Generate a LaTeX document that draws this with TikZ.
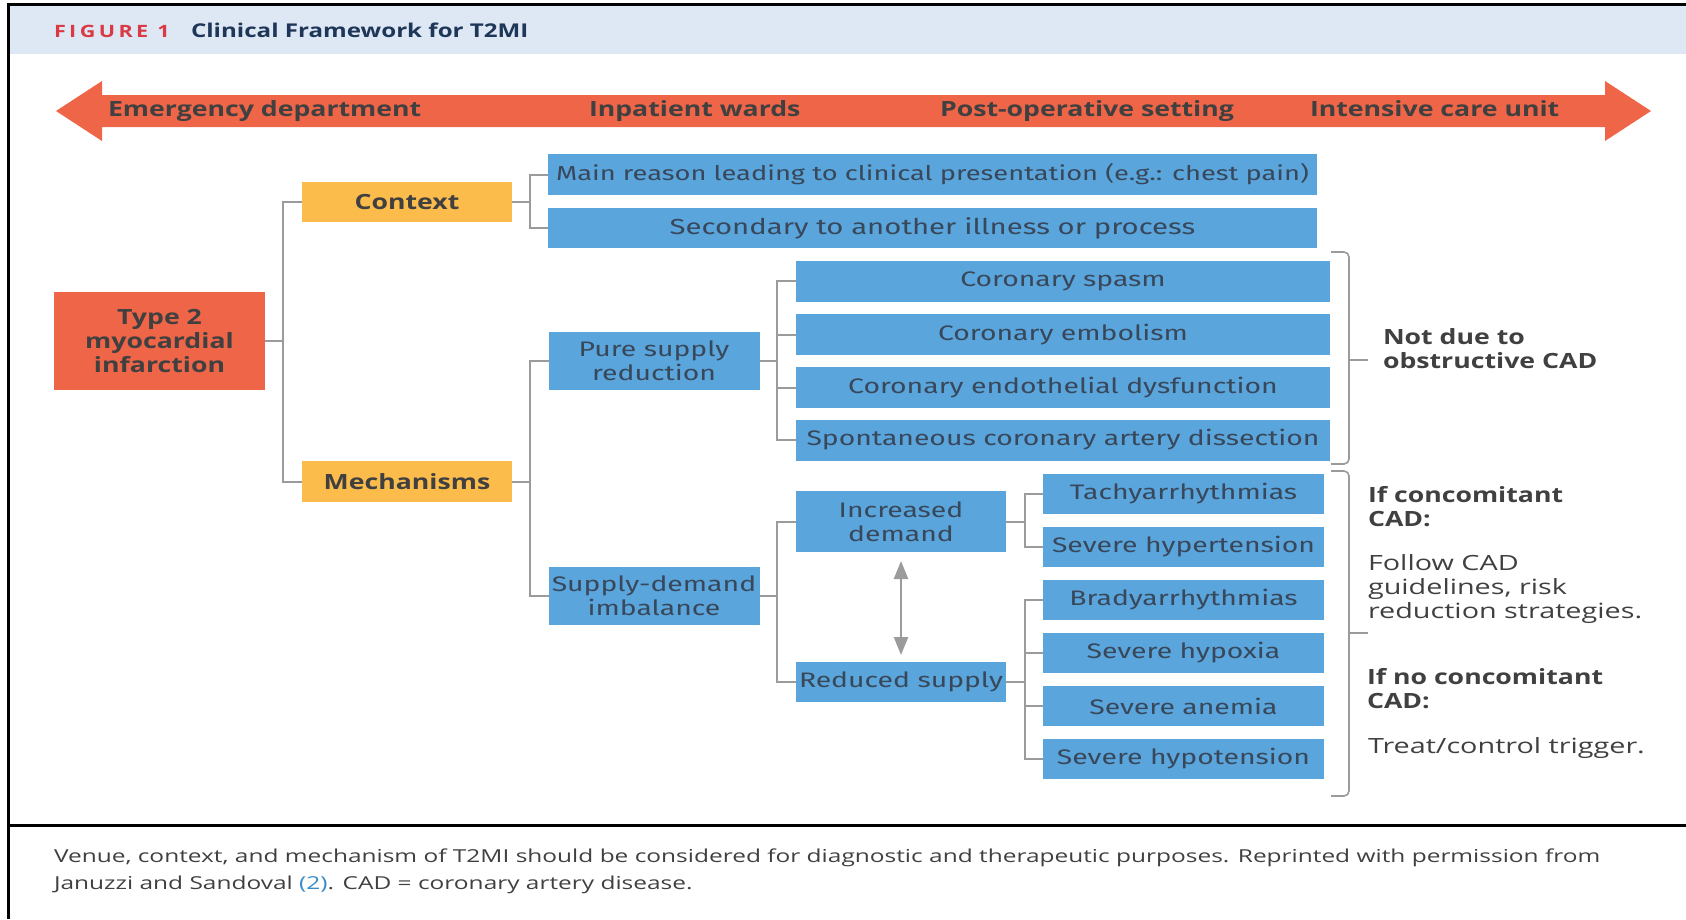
\documentclass[tikz,border=0pt]{standalone}
\usepackage{fontspec}
\setmainfont{Open Sans}[FakeStretch=1.37]
\newfontfamily\boldfont{Open Sans}[FakeStretch=1.27]
\newfontfamily\boxfont{Fira Sans}[FakeStretch=1.35]
\usetikzlibrary{arrows.meta}
\definecolor{orng}{HTML}{EF6548}
\definecolor{yel}{HTML}{FBBC4C}
\definecolor{blu}{HTML}{5AA5DC}
\definecolor{hdr}{HTML}{DEE8F4}
\definecolor{txt}{HTML}{404040}
\definecolor{boxtxt}{HTML}{38475A}
\definecolor{lnk}{HTML}{9B9B9B}
\definecolor{figred}{HTML}{D93A45}
\definecolor{navy}{HTML}{1E3658}
\definecolor{capblue}{HTML}{3A8CC8}
\tikzset{
  every node/.style={inner sep=0pt, outer sep=0pt},
  bluebox/.style={fill=blu, text=boxtxt, font=\boxfont\fontsize{21}{24}\selectfont, align=center},
  yelbox/.style={fill=yel, text=txt, font=\boldfont\bfseries\fontsize{21}{24}\selectfont, align=center, minimum width=210pt, minimum height=40pt},
  redbox/.style={fill=orng, text=txt, font=\boldfont\bfseries\fontsize{21}{24}\selectfont, align=center},
  wide/.style={bluebox, minimum width=769pt, minimum height=41pt},
  coro/.style={bluebox, minimum width=534pt, minimum height=41pt},
  mid/.style={bluebox, minimum width=211pt},
  leaf/.style={bluebox, minimum width=281pt, minimum height=40pt},
  link/.style={draw=lnk, line width=2pt},
  brace/.style={draw=lnk, line width=1.6pt, rounded corners=5pt},
  arrlabel/.style={anchor=base west, text=txt, font=\boldfont\bfseries\fontsize{21}{24}\selectfont},
  sidebold/.style={anchor=west, align=left, text=txt, font=\boldfont\bfseries\fontsize{21}{24}\selectfont},
  sidereg/.style={anchor=west, align=left, text=txt, font=\fontsize{21}{24}\selectfont},
  captxt/.style={anchor=base west, text=txt, font=\fontsize{17.85}{24}\selectfont},
}
\begin{document}
\begin{tikzpicture}[x=1pt, y=-1pt]
\useasboundingbox (0,0) rectangle (1686,919);
% frame
\fill[hdr] (8,5) rectangle (1686,54);
\draw[line width=3pt] (1686,4) -- (8,4) -- (8,919);
\draw[line width=3pt] (8,825) -- (1686,825);
\node[anchor=base west, text=figred, font=\boldfont\bfseries\fontsize{17}{18}\selectfont\addfontfeature{LetterSpace=20}] (fig) at (54,37) {FIGURE 1};
\node[anchor=base west, text=navy, font=\boldfont\bfseries\fontsize{19}{20}\selectfont] (ttl) at (191,37) {Clinical Framework for T2MI};
% venue arrow
\fill[orng] (56,111) -- (102,81) -- (102,95) -- (1605,95) -- (1605,81) -- (1651,111)
  -- (1605,141) -- (1605,127) -- (102,127) -- (102,141) -- cycle;
\node[arrlabel] (v1) at (108,116) {Emergency department};
\node[arrlabel] (v2) at (589,116) {Inpatient wards};
\node[arrlabel] (v3) at (940,116) {Post-operative setting};
\node[arrlabel] (v4) at (1310,116) {Intensive care unit};
% tree
\node[redbox, minimum width=211pt, minimum height=98pt] (t2mi) at (159.5,341) {Type 2\\myocardial\\infarction};
\node[yelbox] (context) at (407,202) {Context};
\node[yelbox, minimum height=41pt] (mech) at (407,481.5) {Mechanisms};
\node[wide, font=\boxfont\fontsize{20.2}{24}\selectfont] (main) at (932.5,174.5) {Main reason leading to clinical presentation (e.g.: chest pain)};
\node[wide, minimum height=40pt, font=\boxfont\fontsize{21.7}{24}\selectfont] (sec) at (932.5,228) {Secondary to another illness or process};
\node[mid, minimum height=58pt] (pure) at (654,361) {Pure supply\\reduction};
\node[mid, minimum height=58pt] (sd) at (654,596) {Supply-demand\\imbalance};
\node[coro] (spasm) at (1063,281) {Coronary spasm};
\node[coro] (embol) at (1063,334.5) {Coronary embolism};
\node[coro] (endo) at (1063,387.5) {Coronary endothelial dysfunction};
\node[coro] (scad) at (1063,440) {Spontaneous coronary artery dissection};
\node[mid, minimum width=210pt, minimum height=61pt] (incd) at (901,521.5) {Increased\\demand};
\node[mid, minimum width=210pt, minimum height=40pt] (reds) at (901,682) {Reduced supply};
\node[leaf] (tachy) at (1183.5,494) {Tachyarrhythmias};
\node[leaf] (hyper) at (1183.5,547) {Severe hypertension};
\node[leaf] (brady) at (1183.5,600) {Bradyarrhythmias};
\node[leaf] (hypox) at (1183.5,653) {Severe hypoxia};
\node[leaf] (anemia) at (1183.5,706) {Severe anemia};
\node[leaf] (hypot) at (1183.5,759) {Severe hypotension};
% links
\draw[link] (t2mi.east) -- ++(18,0) |- (context.west);
\draw[link] (t2mi.east) -- ++(18,0) |- (mech.west);
\draw[link] (context.east) -- ++(18,0) |- (main.west);
\draw[link] (context.east) -- ++(18,0) |- (sec.west);
\draw[link] (mech.east) -- ++(18,0) |- (pure.west);
\draw[link] (mech.east) -- ++(18,0) |- (sd.west);
\foreach \n in {spasm,embol,endo,scad} \draw[link] (pure.east) -- ++(17,0) |- (\n.west);
\draw[link] (sd.east) -- ++(17,0) |- (incd.west);
\draw[link] (sd.east) -- ++(17,0) |- (reds.west);
\foreach \n in {tachy,hyper} \draw[link] (incd.east) -- ++(19,0) |- (\n.west);
\foreach \n in {brady,hypox,anemia,hypot} \draw[link] (reds.east) -- ++(19,0) |- (\n.west);
\draw[draw=lnk, line width=2.5pt, {Triangle[width=14pt,length=18pt]}-{Triangle[width=14pt,length=18pt]}, shorten <=9pt, shorten >=7pt] (incd.south) -- (reds.north);
% braces
\draw[brace] (1331,252) -| (1349,360) |- (1331,464);
\draw[draw=lnk, line width=1.6pt] (1349,360) -- (1368,360);
\draw[brace] (1331,471) -| (1349,633) |- (1331,796);
\draw[draw=lnk, line width=1.6pt] (1349,633) -- (1368,633);
% side texts
\node[sidebold] (n1) at (1383,349) {Not due to\\obstructive CAD};
\node[sidebold] (n2) at (1368,506.5) {If concomitant\\CAD:};
\node[sidereg] (n3) at (1368,589) {Follow CAD\\guidelines, risk\\reduction strategies.};
\node[sidebold] (n4) at (1367,689) {If no concomitant\\CAD:};
\node[sidereg] (n5) at (1368,748) {Treat/control trigger.};
% caption
\node[captxt] (c1) at (54,862) {Venue, context, and mechanism of T2MI should be considered for diagnostic and therapeutic purposes. Reprinted with permission from};
\node[captxt] (c2) at (54,889) {Januzzi and Sandoval \textcolor{capblue}{(2)}. CAD = coronary artery disease.};
\end{tikzpicture}
\end{document}
